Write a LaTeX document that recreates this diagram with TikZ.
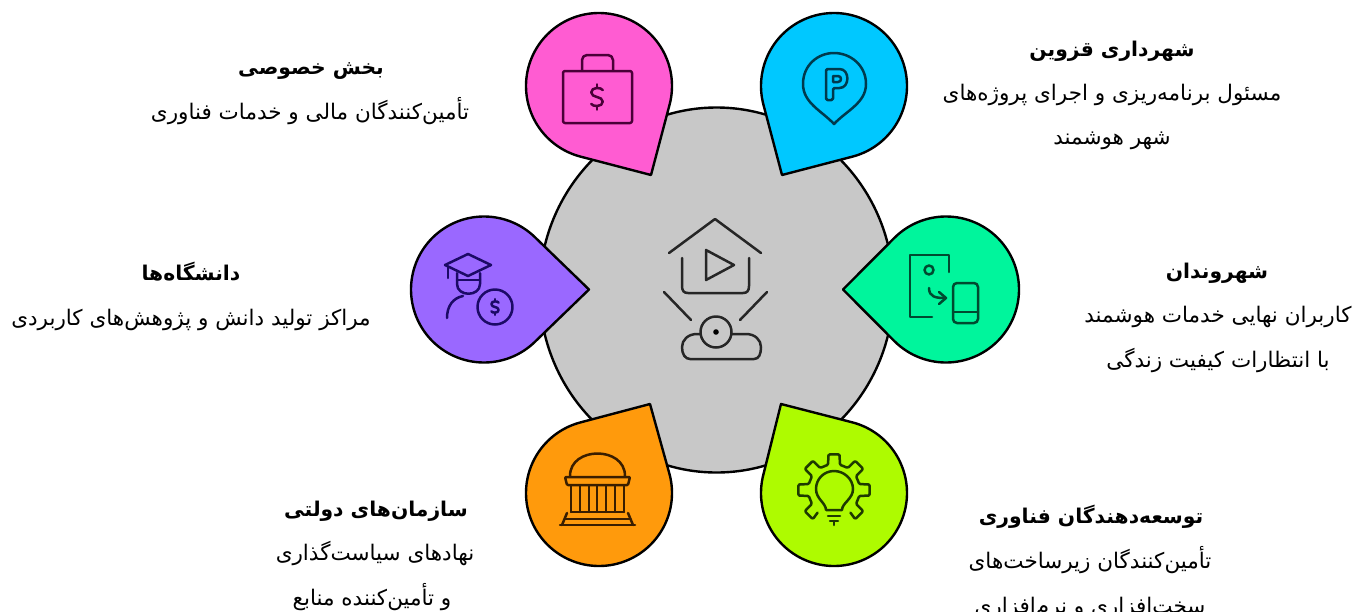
\documentclass[tikz,border=0pt]{standalone}
\usepackage{fontspec}
\newfontfamily\arabicfont[Script=Arabic]{DejaVu Sans}
\TeXXeTstate=1
\newcommand{\fa}[1]{{\arabicfont\beginR #1\endR}}
\tikzset{
  px/.style={x=1pt,y=-1pt},
  rim/.style={draw=black,line width=2.4pt,line join=round},
  ico/.style={line width=2.5pt,line cap=round,line join=round},
  head/.style={inner sep=0pt,anchor=base,font=\fontsize{20.3pt}{24pt}\selectfont\bfseries},
  body/.style={inner sep=0pt,anchor=base,font=\fontsize{21.5pt}{24pt}\selectfont},
}
\definecolor{cgray}{HTML}{C8C8C8}
\definecolor{cpink}{HTML}{FF5CD2}
\definecolor{cblue}{HTML}{00C8FF}
\definecolor{cpurple}{HTML}{9A68FF}
\definecolor{cgreen}{HTML}{00F59C}
\definecolor{corange}{HTML}{FF9A0C}
\definecolor{clime}{HTML}{AEFB00}
\definecolor{dpink}{HTML}{4A0038}
\definecolor{dblue}{HTML}{003A4D}
\definecolor{dpurple}{HTML}{1C0A66}
\definecolor{dgreen}{HTML}{004A30}
\definecolor{dorange}{HTML}{3A1E00}
\definecolor{dlime}{HTML}{1E3A00}
% drop: cx cy r tipx tipy colour
\newcommand{\dropshape}[6]{%
  \pgfmathsetmacro{\da}{atan2(#5-#2,#4-#1)}%
  \pgfmathsetmacro{\db}{acos(#3/veclen(#5-#2,#4-#1))}%
  \pgfmathsetmacro{\ds}{\da+\db}%
  \pgfmathsetmacro{\de}{\da-\db+360}%
  \draw[rim,fill=#6] (#4,#5) -- plot[domain=\ds:\de,samples=120] ({#1+#3*cos(\x)},{#2+#3*sin(\x)}) -- cycle;
}
% dollar sign at x y scale colour
\newcommand{\dollar}[4]{%
  \begin{scope}[shift={(#1pt,-#2pt)},x=#3pt,y=-#3pt]
    \draw[ico,draw=#4] (5,-6) .. controls (4,-8.5) and (-5,-9) .. (-5,-4) .. controls (-5,1) and (5,-1) .. (5,4) .. controls (5,9) and (-4,8.5) .. (-5,6);
    \draw[ico,draw=#4] (0,-8) -- (0,-11) (0,8) -- (0,11);
  \end{scope}}
\newcommand{\gp}[2]{({834+(#1)*cos(#2)},{490-(#1)*sin(#2)})}
\begin{document}
\begin{tikzpicture}[px]
\useasboundingbox (0,0) rectangle (1355,611);
\fill[white] (0,0) rectangle (1355,611);
\draw[rim,fill=cgray] (716.5,290) ellipse [x radius=177pt,y radius=182.5pt];
\dropshape{599}{86}{73}{651}{175}{cpink}
\dropshape{834}{86}{73}{782}{175}{cblue}
\dropshape{484}{289.5}{73}{589}{289.5}{cpurple}
\dropshape{946}{289.5}{73}{843}{289.5}{cgreen}
\dropshape{599}{493}{73}{650}{404}{corange}
\dropshape{834}{493}{73}{781}{404}{clime}
% centre icon
\begin{scope}[ico,draw=black!85]
\draw (669,253) -- (715,219) -- (761,253);
\draw (682,258) -- (682,286) .. controls (682,291) and (684,293) .. (688,293) -- (743,293) .. controls (747,293) and (749,291) .. (749,286) -- (749,258);
\draw (706,250) -- (706,280) -- (734,265) -- cycle;
\draw (664,292) -- (691,320);
\draw (767,292) -- (740,320);
\draw (716,332) circle [radius=15.5pt];
\fill[black] (716,332) circle [radius=2.8pt];
\draw (700,334) -- (697,334) .. controls (688,334) and (682,340) .. (682,347) .. controls (682,354) and (685,359) .. (690,359) -- (754,359) .. controls (759,359) and (761,354) .. (761,347) .. controls (761,340) and (755,334) .. (746,334) -- (732,334);
\end{scope}
% briefcase
\begin{scope}[ico,draw=dpink]
\draw[rounded corners=2pt] (563,71) rectangle (632,123);
\draw[rounded corners=5pt] (582,70) -- (582,55) -- (613,55) -- (613,70);
\end{scope}
\dollar{597}{97}{1.15}{dpink}
% pin P
\begin{scope}[ico,draw=dblue]
\draw (834,124) .. controls (822,111) and (803,103) .. (803,84) .. controls (803,65) and (818,53) .. (834,53) .. controls (850,53) and (866,65) .. (866,84) .. controls (866,103) and (846,111) .. (834,124) -- cycle;
\draw[rounded corners=1.5pt] (826,100) -- (826,69) -- (838,69) .. controls (850,69) and (850,88) .. (838,88) -- (833,88) -- (833,100) -- cycle;
\draw (833,76) -- (838,76) .. controls (842,76) and (842,82) .. (838,82) -- (833,82) -- cycle;
\end{scope}
% graduate
\begin{scope}[ico,draw=dpurple]
\draw (468,254) -- (445,265) -- (468,276) -- (491,265) -- cycle;
\draw (448,267) -- (448,278);
\draw (457,273) -- (457,284) .. controls (457,297) and (480,297) .. (480,284) -- (480,273);
\draw (457,280) -- (480,280);
\draw (463,296) .. controls (453,298) and (447,306) .. (447,318);
\draw (495,307) circle [radius=17.5pt];
\end{scope}
\dollar{495}{307}{0.72}{dpurple}
% phones
\begin{scope}[ico,draw=dgreen]
\draw (949,272) -- (949,255) -- (910,255) -- (910,317) -- (932,317);
\draw (929,270) circle [radius=4.5pt];
\draw (929,288) .. controls (929,297) and (936,298) .. (945,298);
\draw (939,292) -- (946,298) -- (939,304);
\draw[rounded corners=4pt] (953,283) rectangle (978,323);
\draw (953,312) -- (978,312);
\end{scope}
% building
\begin{scope}[ico,draw=dorange]
\draw (570,476) .. controls (570,446) and (625,446) .. (625,476);
\draw[rounded corners=1pt] (565,477) -- (630,477) -- (628,485) -- (567,485) -- cycle;
\foreach \cx in {571,579.8,588.6,597.4,606.2,615,624} \draw[line width=2pt] (\cx,485) -- (\cx,512);
\draw (571,512) -- (624,512);
\draw (567,513) -- (562,525);
\draw (628,513) -- (633,525);
\draw (565,519) -- (630,519);
\draw (560,525) -- (635,525);
\end{scope}
% gear bulb
\begin{scope}[ico,draw=dlime]
\draw[rounded corners=1.2pt] \gp{28}{234}
  \foreach \ang in {225,180,135,90,45,0} {
    -- \gp{36}{\ang+9} -- \gp{36}{\ang-9} -- \gp{26}{\ang-13} -- \gp{26}{\ang-32}
  }
  -- \gp{36}{-36} -- \gp{36}{-54} -- \gp{28}{-54};
\draw (826,510) .. controls (826,503) and (816,499) .. (816,489) .. controls (816,479) and (824,471) .. (834,471) .. controls (844,471) and (853,479) .. (853,489) .. controls (853,499) and (842,503) .. (842,510) -- (826,510);
\draw (828,516) -- (840,516) (830,521) -- (838,521) (834,521) -- (834,525);
\end{scope}
% text
\node[head] (t1) at (311,74) {\fa{بخش خصوصی}};
\node[body] (b1) at (310,119) {\fa{تأمین‌کنندگان مالی و خدمات فناوری}};
\node[head] (t2) at (1112,56) {\fa{شهرداری قزوین}};
\node[body] (b2a) at (1112,100) {\fa{مسئول برنامه‌ریزی و اجرای پروژه‌های}};
\node[body] (b2b) at (1112,144) {\fa{شهر هوشمند}};
\node[head] (t3) at (191,280) {\fa{دانشگاه‌ها}};
\node[body] (b3) at (191,325) {\fa{مراکز تولید دانش و پژوهش‌های کاربردی}};
\node[head] (t4) at (1217,278) {\fa{شهروندان}};
\node[body] (b4a) at (1218,322) {\fa{کاربران نهایی خدمات هوشمند}};
\node[body] (b4b) at (1218,367) {\fa{با انتظارات کیفیت زندگی}};
\node[head] (t5) at (376,516) {\fa{سازمان‌های دولتی}};
\node[body] (b5a) at (375,560) {\fa{نهادهای سیاست‌گذاری}};
\node[body] (b5b) at (372,605) {\fa{و تأمین‌کننده منابع}};
\node[head] (t6) at (1091,523) {\fa{توسعه‌دهندگان فناوری}};
\node[body] (b6a) at (1090,568) {\fa{تأمین‌کنندگان زیرساخت‌های}};
\node[body] (b6b) at (1090,613) {\fa{سخت‌افزاری و نرم‌افزاری}};
\end{tikzpicture}
\end{document}
